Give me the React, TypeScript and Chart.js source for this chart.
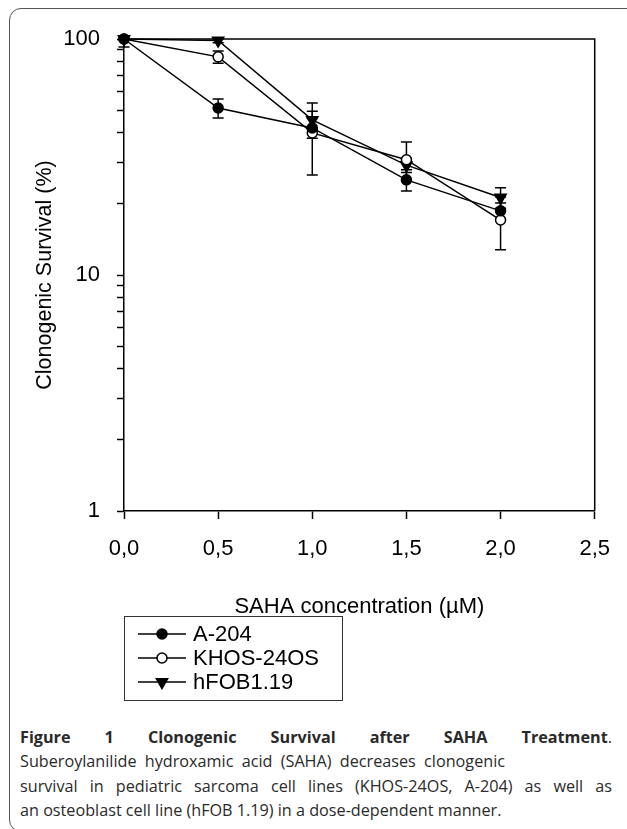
import React, { useEffect, useRef } from "react";
import { Chart, registerables } from "chart.js";

Chart.register(...registerables);

// ---- data ----
const doses = [0, 0.5, 1.0, 1.5, 2.0];
const seriesNames = ["A-204", "KHOS-24OS", "hFOB1.19"];
const a204 = [100, 51, 42, 25.3, 18.7];
const a204Err = [0, 4.7, 4, 2.6, 1.5];
const khos = [100, 84, 40, 30.8, 17.1];
const khosErr = [0, 5, 13.5, 5.8, 4.3];
const hfob = [100, 98.5, 45.4, 29.2, 21.3];
const hfobErr = [7.5, 2, 4, 2, 2.1];
const xTickValues = [0, 0.5, 1.0, 1.5, 2.0, 2.5];
const yTickValues = [1, 2, 3, 4, 5, 6, 7, 8, 9, 10, 20, 30, 40, 50, 60, 70, 80, 90, 100];
const yLabelledTicks = [1, 10, 100];
const xTitle = "SAHA concentration (µM)";
const yTitle = "Clonogenic Survival (%)";

const AXIS_FONT = "'Liberation Sans', Arial, sans-serif";

const toPoints = (vals: number[]) => vals.map((v, i) => ({ x: doses[i], y: v }));

const errorBarPlugin = {
  id: "errorBars",
  beforeDatasetsDraw(chart: any) {
    const { ctx, chartArea, scales } = chart;
    const xs = scales.x;
    const ys = scales.y;
    ctx.save();
    ctx.beginPath();
    ctx.rect(chartArea.left - 20, chartArea.top, chartArea.right - chartArea.left + 40, chartArea.bottom - chartArea.top);
    ctx.clip();
    ctx.strokeStyle = "#000";
    ctx.lineWidth = 1.5;
    chart.data.datasets.forEach((ds: any) => {
      const errs: number[] = ds.errors || [];
      ds.data.forEach((pt: any, i: number) => {
        const e = errs[i];
        if (!e) return;
        const px = xs.getPixelForValue(pt.x);
        const yHi = ys.getPixelForValue(pt.y + e);
        const yLo = ys.getPixelForValue(pt.y - e);
        ctx.beginPath();
        ctx.moveTo(px, yHi);
        ctx.lineTo(px, yLo);
        ctx.moveTo(px - 5.5, yHi);
        ctx.lineTo(px + 5.5, yHi);
        ctx.moveTo(px - 5.5, yLo);
        ctx.lineTo(px + 5.5, yLo);
        ctx.stroke();
      });
    });
    ctx.restore();
  },
};

const framePlugin = {
  id: "frame",
  afterDatasetsDraw(chart: any) {
    const { ctx, chartArea } = chart;
    ctx.save();
    ctx.strokeStyle = "#000";
    ctx.lineWidth = 1.5;
    ctx.beginPath();
    ctx.moveTo(chartArea.left, chartArea.top);
    ctx.lineTo(chartArea.right, chartArea.top);
    ctx.lineTo(chartArea.right, chartArea.bottom);
    ctx.stroke();
    ctx.restore();
  },
};

function drawMarker(ctx: CanvasRenderingContext2D, ds: any, x: number, y: number) {
  ctx.save();
  ctx.lineWidth = 1.5;
  ctx.strokeStyle = "#000";
  ctx.fillStyle = ds.pointBackgroundColor;
  ctx.beginPath();
  if (ds.pointStyle === "triangle") {
    const r = ds.pointRadius;
    const a = Math.PI; // rotated 180
    for (let k = 0; k < 3; k++) {
      const ang = a + (k * 2 * Math.PI) / 3;
      const px = x + Math.sin(ang) * r;
      const py = y - Math.cos(ang) * r;
      if (k === 0) ctx.moveTo(px, py);
      else ctx.lineTo(px, py);
    }
    ctx.closePath();
  } else {
    ctx.arc(x, y, ds.pointRadius, 0, Math.PI * 2);
  }
  ctx.fill();
  ctx.stroke();
  ctx.restore();
}

const legendPlugin = {
  id: "customLegend",
  afterDraw(chart: any) {
    const { ctx } = chart;
    const boxX = 124.5, boxY = 616.5, boxW = 218, boxH = 84;
    ctx.save();
    ctx.strokeStyle = "#333";
    ctx.lineWidth = 1;
    ctx.strokeRect(boxX, boxY, boxW, boxH);
    chart.data.datasets.forEach((ds: any, i: number) => {
      const y = 634 + i * 24;
      ctx.strokeStyle = "#000";
      ctx.lineWidth = 1.5;
      ctx.beginPath();
      ctx.moveTo(138, y);
      ctx.lineTo(186, y);
      ctx.stroke();
      drawMarker(ctx, ds, 162, y);
      ctx.fillStyle = "#000";
      ctx.font = `22px ${AXIS_FONT}`;
      ctx.textBaseline = "middle";
      ctx.textAlign = "left";
      ctx.fillText(ds.label, 193, y + 1);
    });
    ctx.restore();
  },
};

function SurvivalChart() {
  const ref = useRef<HTMLCanvasElement | null>(null);
  useEffect(() => {
    if (!ref.current) return;
    const mk = (label: string, vals: number[], errs: number[], style: string, bg: string, r: number) => ({
      label,
      data: toPoints(vals),
      errors: errs,
      borderColor: "#000",
      borderWidth: 1.5,
      pointStyle: style,
      pointRotation: style === "triangle" ? 180 : 0,
      pointRadius: r,
      pointHoverRadius: r,
      pointBackgroundColor: bg,
      pointBorderColor: "#000",
      pointBorderWidth: 1.5,
      tension: 0,
      fill: false,
      clip: false,
    });
    const chart = new Chart(ref.current, {
      type: "line",
      data: {
        datasets: [
          mk(seriesNames[0], a204, a204Err, "circle", "#000", 5),
          mk(seriesNames[1], khos, khosErr, "circle", "#fff", 5),
          mk(seriesNames[2], hfob, hfobErr, "triangle", "#000", 6.5),
        ] as any,
      },
      options: {
        responsive: false,
        animation: false,
        devicePixelRatio: 1,
        events: [],
        layout: { padding: { left: 32, top: 39, right: 30, bottom: 90 } },
        plugins: { legend: { display: false }, tooltip: { enabled: false } },
        scales: {
          x: {
            type: "linear",
            min: 0,
            max: 2.5,
            afterFit: (s: any) => { s.height = 109; },
            afterBuildTicks: (s: any) => { s.ticks = xTickValues.map((v) => ({ value: v })); },
            grid: { drawOnChartArea: false, drawTicks: true, tickLength: 8, tickWidth: 1.5, tickColor: "#000" },
            border: { display: true, color: "#000", width: 1.5 },
            ticks: {
              color: "#000",
              padding: 17,
              maxRotation: 0,
              autoSkip: false,
              font: { family: AXIS_FONT, size: 22 },
              callback: (v: any) => Number(v).toFixed(1).replace(".", ","),
            },
            title: { display: true, text: xTitle, color: "#000", padding: 0, font: { family: AXIS_FONT, size: 22 } },
          },
          y: {
            type: "logarithmic",
            min: 1,
            max: 100,
            afterFit: (s: any) => { s.width = 92; },
            afterBuildTicks: (s: any) => { s.ticks = yTickValues.map((v) => ({ value: v })); },
            grid: { drawOnChartArea: false, drawTicks: true, tickLength: 7, tickWidth: 1.5, tickColor: "#000" },
            border: { display: true, color: "#000", width: 1.5 },
            ticks: {
              color: "#000",
              padding: 17,
              autoSkip: false,
              font: { family: AXIS_FONT, size: 22 },
              callback: (v: any) => (yLabelledTicks.includes(Number(v)) ? String(v) : ""),
            },
            title: { display: true, text: yTitle, color: "#000", padding: 0, font: { family: AXIS_FONT, size: 21.5 } },
          },
        },
      },
      plugins: [errorBarPlugin, framePlugin, legendPlugin],
    });
    return () => chart.destroy();
  }, []);
  return <canvas ref={ref} width={627} height={710} style={{ position: "absolute", left: 0, top: 0 }} />;
}

export default function App() {
  const lineStyle: React.CSSProperties = { whiteSpace: "nowrap", height: 24.3, lineHeight: "24.3px" };
  const just: React.CSSProperties = { textAlign: "justify", textAlignLast: "justify" };
  return (
    <div style={{ position: "fixed", left: 0, top: 0, width: 627, height: 829, overflow: "hidden", background: "#fff" }}>
      <div
        style={{
          position: "absolute",
          left: 9,
          top: 8,
          width: 640,
          height: 824,
          border: "1px solid #555",
          borderRadius: 12,
          boxSizing: "border-box",
        }}
      />
      <SurvivalChart />
      <div
        style={{
          position: "absolute",
          left: 20,
          top: 725,
          width: 592,
          fontFamily: "'Open Sans', 'Noto Sans', sans-serif",
          fontSize: 16.2,
          color: "#2a2a2a",
        }}
      >
        <div style={{ ...lineStyle, ...just }}>
          <b>Figure 1 Clonogenic Survival after SAHA Treatment</b>.
        </div>
        <div style={{ ...lineStyle, ...just, width: 485 }}>Suberoylanilide hydroxamic acid (SAHA) decreases clonogenic</div>
        <div style={{ ...lineStyle, ...just }}>
          survival in pediatric sarcoma cell lines (KHOS-24OS, A-204) as well as
        </div>
        <div style={lineStyle}>an osteoblast cell line (hFOB 1.19) in a dose-dependent manner.</div>
      </div>
    </div>
  );
}
